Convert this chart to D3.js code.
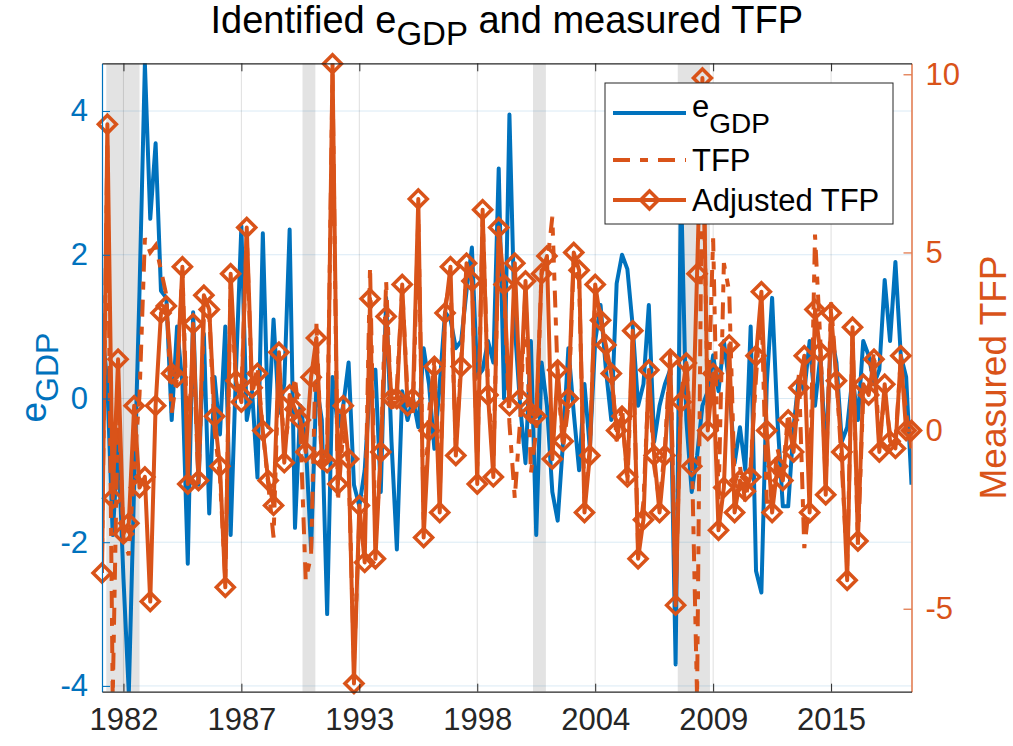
<!DOCTYPE html>
<html>
<head>
<meta charset="utf-8">
<script src="https://d3js.org/d3.v7.min.js"></script>
<style>
  body { margin: 0; background: #fff; }
  text { font-family: "Liberation Sans", Arial, Helvetica, sans-serif; }
</style>
</head>
<body>
<div id="chart"></div>
<script>
// Quarterly observations, 1981Q1 onwards
var startYear = 1981;

// Identified e_GDP shock (left axis)
var egdp = [1.0, 0.2, -1.9, -0.6, -2.5, -4.1, -1.2, 1.5, 4.66, 2.5,
  3.55, 1.5, 1.4, -0.3, 1.0, 0.2, -2.3, 1.2, -1.2, 0.9,
  -1.6, 0.3, -0.5, 1.0, -1.9, 0.4, 2.4, -0.3, 0.1, -1.1,
  2.3, -0.4, 1.1, -0.2, 0.2, 2.35, -1.8, -0.1, -0.6, -2.1,
  0.2, -0.3, -3.0, 0.3, -0.4, -0.1, 0.5, -1.2, -1.5, -1.0,
  0.2, 0.4, -1.3, 1.4, -0.6, -2.1, 0.1, -0.3, 0.0, -0.4,
  0.7, 0.2, -0.7, 0.2, 1.2, 1.1, 0.7, 0.8, 1.5, 2.1,
  0.3, 0.4, 0.8, 0.5, 3.2, 0.0, 3.95, 1.0, -0.1, -0.9,
  0.8, -1.9, 0.5, -0.1, -1.3, -1.7, -0.6, 0.7, -0.2, -1.0,
  0.2, -0.7, 0.8, 1.3, 0.4, -0.3, 1.6, 2.0, 1.8, 1.0,
  -0.1, 0.2, 1.3, -0.6, -0.1, 0.2, 0.4, -3.7, 3.0, -0.3,
  -1.3, -0.8, -0.1, 0.1, 0.6, 0.1, 0.8, 0.2, -0.9, -0.4,
  -1.0, 1.0, -2.4, -2.7, 0.2, 1.4, -0.3, -1.5, -1.5, -0.4,
  0.3, 0.1, 0.8, -0.1, 0.6, -0.8, 0.9, 0.5, -0.6, -0.4,
  0.3, -0.3, 0.8, 0.6, 0.2, 0.4, 1.65, 0.8, 1.9, 0.6,
  0.3, -1.2];

// Measured TFP (right axis)
var tfp = [-3.5, 8.0, -7.5, 1.0, -3.0, -3.5, -1.0, 1.0, 5.4, 5.0,
  5.2, 4.5, 3.8, 0.5, 1.5, 4.5, -0.5, 2.5, -1.5, 3.2,
  3.3, 0.0, -1.3, -4.2, 4.2, 1.3, 1.0, 5.5, 1.0, 1.8,
  0.0, -1.5, -3.0, 2.0, -0.5, 0.5, 1.5, 0.0, -4.2, -3.5,
  3.0, -1.0, -0.5, 10.0, -2.0, 0.0, -1.0, -6.5, -2.5, -3.0,
  4.6, -3.0, -0.8, 4.2, 0.5, 1.2, 4.0, 1.0, 0.5, 6.0,
  -2.5, 0.5, 2.0, -1.8, 3.5, 4.2, -0.5, 2.0, 4.5, 4.5,
  -1.0, 6.0, 1.3, -1.0, 5.5, 4.0, 0.2, -1.9, 0.3, 4.0,
  -1.2, 0.0, 4.5, 4.6, 6.0, 1.5, -0.5, 0.7, 4.8, 4.2,
  -2.0, -0.5, 3.8, 3.3, 2.0, 1.8, -0.3, 0.7, -1.5, 2.5,
  -3.3, -2.0, 1.5, -1.0, -2.0, -0.5, 2.2, -4.6, 1.0, 2.0,
  -0.5, -7.5, 9.0, 0.5, 5.4, -2.0, 4.7, 3.9, -1.5, -1.0,
  -2.0, -1.0, 1.5, 3.6, -2.0, -2.0, -0.5, -1.2, 0.5, -0.4,
  1.6, -3.3, -2.0, 5.5, 2.5, -1.5, 3.6, 1.5, -1.0, -3.8,
  2.8, -3.2, 1.0, 1.2, 2.2, -0.3, 1.0, -0.1, -0.3, 2.0,
  0.5, -0.5];

// Adjusted TFP (right axis)
var adjTfp = [-4.0, 8.6, -1.9, 2.0, -2.9, -2.6, 0.7, -1.6, -1.3, -4.8,
  0.7, 3.3, 3.5, 1.6, 1.5, 4.6, -1.5, 3.0, -1.4, 3.8,
  3.4, 0.4, -1.0, -4.4, 4.4, 1.4, 0.8, 5.7, 1.2, 1.6,
  0.0, -1.4, -2.1, 2.2, -0.9, 1.0, 0.6, 0.3, -0.6, 1.5,
  2.6, -0.8, -0.9, 10.3, -1.5, 0.7, -0.8, -7.1, -2.1, -3.7,
  3.7, -3.6, -0.6, 3.2, 0.9, 0.9, 4.1, 0.7, 0.9, 6.5,
  -3.0, 0.0, 1.8, -2.3, 3.3, 4.6, -0.7, 1.8, 4.7, 4.2,
  -1.5, 6.2, 1.0, -1.3, 5.7, 4.1, 0.7, 4.7, 0.9, 4.2,
  0.5, 0.4, 4.4, 4.9, -0.8, 1.7, -0.3, 0.9, 5.0, 4.5,
  -2.3, -0.7, 4.1, 3.1, 2.4, 1.6, 0.0, 0.4, -1.3, 2.8,
  -3.6, -2.5, 1.7, -0.7, -2.3, -0.7, 2.0, -4.9, 0.8, 1.9,
  -1.0, 4.4, 9.9, 0.0, 1.6, -2.8, -1.6, 2.4, -2.3, -1.4,
  -1.7, -1.3, 2.1, 3.9, 0.0, -2.3, -1.0, -1.4, 0.3, -0.6,
  1.2, 2.1, -2.3, 3.4, 2.2, -1.8, 3.3, 1.4, -0.6, -4.2,
  2.9, -3.1, 1.3, 1.0, 2.0, -0.6, 1.3, -0.3, -0.5, 2.1,
  0.0, 0.0];

// Recession shading (start, end) in years
var recessions = [[1981.2, 1982.75], [1990.35, 1990.95], [2001.1, 2001.7], [2007.85, 2009.35]];

// Tick positions and labels
var xTickValues = [1982, 1987.5, 1993, 1998.5, 2004, 2009.5, 2015];
var xTickLabels = ["1982", "1987", "1993", "1998", "2004", "2009", "2015"];
var leftTicks = [-4, -2, 0, 2, 4];
var rightTicks = [-5, 0, 5, 10];

var blue = "#0072BD";
var orange = "#D95319";
var dark = "#262626";

var dates = egdp.map(function(d, i) { return startYear + i / 4; });

var W = 1013, H = 746;
var plotL = 102, plotR = 911.5, plotT = 63.3, plotB = 691.7;

var svg = d3.select("#chart")
  .append("svg")
  .attr("width", W)
  .attr("height", H);

var x = d3.scaleLinear().domain([1981, 2018.75]).range([plotL, plotR]);
var yL = d3.scaleLinear().domain([-4.08, 4.664]).range([plotB, plotT]);
var yR = d3.scaleLinear().domain([-7.33, 10.31]).range([plotB, plotT]);

svg.append("clipPath").attr("id", "plotClip")
  .append("rect")
  .attr("x", plotL).attr("y", plotT)
  .attr("width", plotR - plotL).attr("height", plotB - plotT);

var plot = svg.append("g").attr("clip-path", "url(#plotClip)");

// Recession bands
plot.selectAll("rect.band")
  .data(recessions)
  .enter()
  .append("rect")
  .attr("class", "band")
  .attr("x", function(d) { return x(d[0]); })
  .attr("width", function(d) { return x(d[1]) - x(d[0]); })
  .attr("y", plotT)
  .attr("height", plotB - plotT)
  .style("fill", "#e3e3e3");

// Grid lines
plot.selectAll("line.hgrid")
  .data(leftTicks)
  .enter()
  .append("line")
  .attr("x1", plotL).attr("x2", plotR)
  .attr("y1", function(d) { return yL(d); })
  .attr("y2", function(d) { return yL(d); })
  .style("stroke", blue).style("stroke-opacity", 0.15).style("stroke-width", 1);

plot.selectAll("line.vgrid")
  .data(xTickValues)
  .enter()
  .append("line")
  .attr("y1", plotT).attr("y2", plotB)
  .attr("x1", function(d) { return x(d); })
  .attr("x2", function(d) { return x(d); })
  .style("stroke", dark).style("stroke-opacity", 0.15).style("stroke-width", 1);

var lineL = d3.line()
  .x(function(d, i) { return x(dates[i]); })
  .y(function(d) { return yL(d); });

var lineR = d3.line()
  .x(function(d, i) { return x(dates[i]); })
  .y(function(d) { return yR(d); });

plot.append("path")
  .datum(egdp)
  .attr("d", lineL)
  .style("fill", "none")
  .style("stroke", blue)
  .style("stroke-width", 4)
  .style("stroke-linejoin", "round");

plot.append("path")
  .datum(tfp)
  .attr("d", lineR)
  .style("fill", "none")
  .style("stroke", orange)
  .style("stroke-width", 4)
  .style("stroke-dasharray", "17,10,8,10");

plot.append("path")
  .datum(adjTfp)
  .attr("d", lineR)
  .style("fill", "none")
  .style("stroke", orange)
  .style("stroke-width", 4)
  .style("stroke-linejoin", "round");

// Diamond markers (not clipped, like MATLAB)
var diamond = "M0,-9L9,0L0,9L-9,0Z";
svg.append("g")
  .selectAll("path")
  .data(adjTfp)
  .enter()
  .append("path")
  .attr("d", diamond)
  .attr("transform", function(d, i) { return "translate(" + x(dates[i]) + "," + yR(d) + ")"; })
  .style("fill", "none")
  .style("stroke", orange)
  .style("stroke-width", 3.5);

// Axes
var fmt = function(d) { return String(d); };

var axL = svg.append("g")
  .attr("transform", "translate(" + plotL + ",0)")
  .call(d3.axisLeft(yL).tickValues(leftTicks).tickFormat(fmt).tickSizeInner(-8).tickSizeOuter(0).tickPadding(14));
axL.selectAll("path, line").style("stroke", blue);
axL.selectAll("text").style("fill", blue).style("font-size", "31px");

var axR = svg.append("g")
  .attr("transform", "translate(" + plotR + ",0)")
  .call(d3.axisRight(yR).tickValues(rightTicks).tickFormat(fmt).tickSizeInner(-8).tickSizeOuter(0).tickPadding(14));
axR.selectAll("path, line").style("stroke", orange);
axR.selectAll("text").style("fill", orange).style("font-size", "31px");

var axB = svg.append("g")
  .attr("transform", "translate(0," + plotB + ")")
  .call(d3.axisBottom(x).tickValues(xTickValues)
    .tickFormat(function(d, i) { return xTickLabels[i]; })
    .tickSizeInner(-8).tickSizeOuter(0).tickPadding(16));
axB.selectAll("path, line").style("stroke", dark);
axB.selectAll("text").style("fill", dark).style("font-size", "31px");

var axT = svg.append("g")
  .attr("transform", "translate(0," + plotT + ")")
  .call(d3.axisTop(x).tickValues(xTickValues).tickFormat("").tickSizeInner(-8).tickSizeOuter(0));
axT.selectAll("path, line").style("stroke", dark);

svg.selectAll(".domain").style("stroke-width", 1.2);

// Title
var title = svg.append("text")
  .attr("x", (plotL + plotR) / 2)
  .attr("y", 33)
  .attr("text-anchor", "middle")
  .style("font-size", "38px")
  .style("fill", "#000");
title.append("tspan").text("Identified e");
title.append("tspan").attr("dy", 12).style("font-size", "33px").text("GDP");
title.append("tspan").attr("dy", -12).text(" and measured TFP");

// Y labels
var ylab = svg.append("text")
  .attr("transform", "translate(46," + (plotT + plotB) / 2 + ") rotate(-90)")
  .attr("text-anchor", "middle")
  .style("font-size", "37px")
  .style("fill", blue);
ylab.append("tspan").text("e");
ylab.append("tspan").attr("dy", 12).style("font-size", "32px").text("GDP");

svg.append("text")
  .attr("transform", "translate(1006," + (plotT + plotB) / 2 + ") rotate(-90)")
  .attr("text-anchor", "middle")
  .style("font-size", "37px")
  .style("fill", orange)
  .text("Measured TFP");

// Legend
var legend = svg.append("g");
legend.append("rect")
  .attr("x", 605).attr("y", 83)
  .attr("width", 288).attr("height", 141)
  .style("fill", "#fff")
  .style("stroke", dark)
  .style("stroke-width", 1);

var legRows = [
  { y: 113, dash: null, marker: false, label: "e", sub: "GDP", color: blue },
  { y: 160, dash: "17,10,8,10", marker: false, label: "TFP", sub: null, color: orange },
  { y: 200, dash: null, marker: true, label: "Adjusted TFP", sub: null, color: orange }
];

legRows.forEach(function(r) {
  legend.append("line")
    .attr("x1", 613).attr("x2", 686)
    .attr("y1", r.y).attr("y2", r.y)
    .style("stroke", r.color)
    .style("stroke-width", 4)
    .style("stroke-dasharray", r.dash);
  if (r.marker) {
    legend.append("path")
      .attr("d", diamond)
      .attr("transform", "translate(649.5," + r.y + ")")
      .style("fill", "none")
      .style("stroke", r.color)
      .style("stroke-width", 3.5);
  }
  var t = legend.append("text")
    .attr("x", 692)
    .attr("y", r.y + 11)
    .style("font-size", "31px")
    .style("fill", "#000");
  t.append("tspan").text(r.label);
  if (r.sub) {
    t.attr("y", r.y + 4);
    t.append("tspan").attr("dy", 16).style("font-size", "28px").text(r.sub);
  }
});
</script>
</body>
</html>
